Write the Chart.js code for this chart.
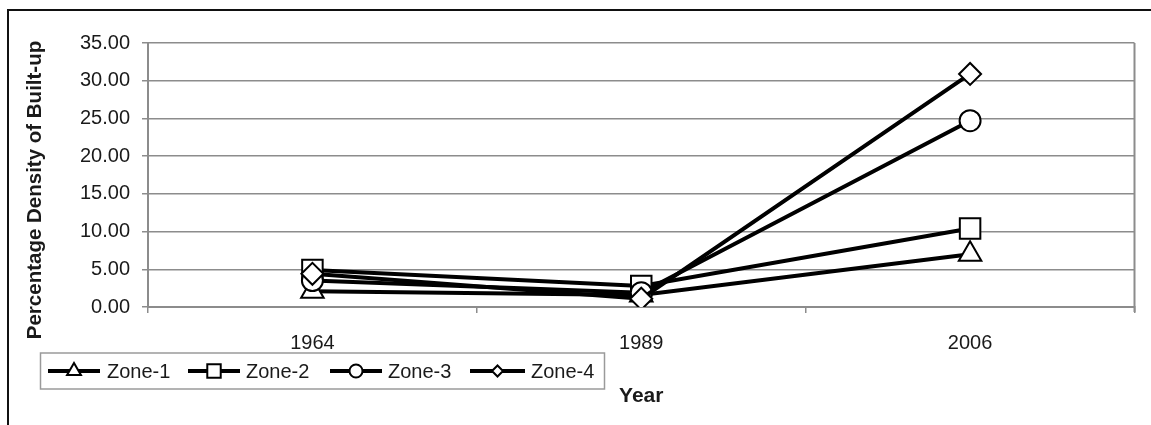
<!DOCTYPE html>
<html>
<head>
<meta charset="utf-8">
<script src="https://cdn.jsdelivr.net/npm/chart.js@4.4.0/dist/chart.umd.min.js"></script>
<style>
  html, body { margin: 0; padding: 0; background: #ffffff; overflow: hidden; }
  #wrap { position: relative; width: 1151px; height: 425px; }
  #frame { position: absolute; left: 7px; top: 9px; width: 1300px; height: 600px;
           border-top: 2px solid #111; border-left: 2px solid #111; pointer-events: none; }
  canvas { position: absolute; left: 0; top: 0; }
</style>
</head>
<body>
<div id="wrap">
  <canvas id="c" width="1151" height="425"></canvas>
  <div id="frame"></div>
</div>
<script>
// ---- data ----
const years = ['1964', '1989', '2006'];
const zone1 = [2.1, 1.6, 7.0];
const zone2 = [4.9, 2.8, 10.4];
const zone3 = [3.5, 1.9, 24.7];
const zone4 = [4.4, 1.1, 30.9];
const seriesNames = ['Zone-1', 'Zone-2', 'Zone-3', 'Zone-4'];
const yTicks = [0, 5, 10, 15, 20, 25, 30, 35];
const yTitle = 'Percentage Density of Built-up';
const xTitle = 'Year';

const FONT = '"Liberation Sans", Arial, sans-serif';
const TEXT = '#1a1a1a';
const GRID = '#8c8c8c';

function ds(label, data, style, radius, order) {
  return {
    label, data, order,
    borderColor: '#000', borderWidth: 4, tension: 0,
    pointStyle: style, pointRadius: radius, pointHoverRadius: radius,
    pointBackgroundColor: '#fff', pointBorderColor: '#000', pointBorderWidth: 2
  };
}

const legendStyles = ['triangle', 'rect', 'circle', 'rectRot'];
const legendLayout = [
  { x1: 48, x2: 100, tx: 107, r: 8 },
  { x1: 188, x2: 240, tx: 246, r: 9.5 },
  { x1: 330, x2: 382, tx: 388, r: 6.5 },
  { x1: 470, x2: 525, tx: 531, r: 5.5 }
];

function drawMarker(ctx, style, x, y, r) {
  ctx.beginPath();
  if (style === 'circle') {
    ctx.arc(x, y, r, 0, Math.PI * 2);
  } else if (style === 'rect') {
    const s = Math.SQRT1_2 * r;
    ctx.rect(x - s, y - s, 2 * s, 2 * s);
  } else if (style === 'rectRot') {
    ctx.moveTo(x - r, y); ctx.lineTo(x, y - r); ctx.lineTo(x + r, y); ctx.lineTo(x, y + r); ctx.closePath();
  } else if (style === 'triangle') {
    let a = 0;
    ctx.moveTo(x + Math.sin(a) * r, y - Math.cos(a) * r);
    a += 2 * Math.PI / 3; ctx.lineTo(x + Math.sin(a) * r, y - Math.cos(a) * r);
    a += 2 * Math.PI / 3; ctx.lineTo(x + Math.sin(a) * r, y - Math.cos(a) * r);
    ctx.closePath();
  }
  ctx.fillStyle = '#fff'; ctx.fill();
  ctx.lineWidth = 2; ctx.strokeStyle = '#000'; ctx.stroke();
}

const extras = {
  id: 'extras',
  beforeDatasetsDraw(chart) {
    const { ctx, chartArea: a } = chart;
    ctx.save();
    ctx.strokeStyle = GRID; ctx.lineWidth = 2;
    ctx.beginPath(); ctx.moveTo(a.right, a.top); ctx.lineTo(a.right, a.bottom + 5); ctx.stroke();
    ctx.restore();
  },
  afterDraw(chart) {
    const { ctx } = chart;
    ctx.save();
    // y axis title
    ctx.fillStyle = TEXT;
    ctx.font = 'bold 20.5px ' + FONT;
    ctx.textAlign = 'center'; ctx.textBaseline = 'middle';
    ctx.translate(35, 190); ctx.rotate(-Math.PI / 2);
    ctx.fillText(yTitle, 0, 0);
    ctx.restore();

    // legend
    ctx.save();
    ctx.strokeStyle = '#9a9a9a'; ctx.lineWidth = 1.5;
    ctx.strokeRect(40.5, 353, 564, 36);
    const ly = 371;
    seriesNames.forEach((name, i) => {
      const L = legendLayout[i];
      ctx.strokeStyle = '#000'; ctx.lineWidth = 4;
      ctx.beginPath(); ctx.moveTo(L.x1, ly); ctx.lineTo(L.x2, ly); ctx.stroke();
      drawMarker(ctx, legendStyles[i], (L.x1 + L.x2) / 2, ly, L.r);
      ctx.fillStyle = TEXT; ctx.font = '20px ' + FONT;
      ctx.textAlign = 'left'; ctx.textBaseline = 'middle';
      ctx.fillText(name, L.tx, ly + 1);
    });
    ctx.restore();
  }
};

new Chart(document.getElementById('c'), {
  type: 'line',
  data: {
    labels: years,
    datasets: [
      ds(seriesNames[0], zone1, 'triangle', 13, 3),
      ds(seriesNames[1], zone2, 'rect', 14.5, 2),
      ds(seriesNames[2], zone3, 'circle', 10.5, 1),
      ds(seriesNames[3], zone4, 'rectRot', 11, 0)
    ]
  },
  options: {
    responsive: false,
    animation: false,
    events: [],
    layout: { padding: { left: 0, top: 43, right: 11, bottom: 0 } },
    plugins: { legend: { display: false }, tooltip: { enabled: false } },
    scales: {
      x: {
        offset: true,
        afterFit(scale) { scale.height = 118; scale.paddingLeft = 0; scale.paddingRight = 0; },
        grid: { offset: true, drawOnChartArea: false, drawTicks: true, tickLength: 6, color: GRID, lineWidth: 1.5 },
        border: { color: GRID, width: 2 },
        ticks: { color: TEXT, font: { family: FONT, size: 20 }, padding: 18, maxRotation: 0 },
        title: { display: true, text: xTitle, color: TEXT, font: { family: FONT, size: 21, weight: 'bold' }, padding: { top: 0, bottom: 16 } }
      },
      y: {
        min: 0, max: 35,
        afterFit(scale) { scale.width = 148; scale.paddingTop = 0; scale.paddingBottom = 0; },
        afterBuildTicks(scale) { scale.ticks = yTicks.map(v => ({ value: v })); },
        grid: { color: GRID, lineWidth: 1.5, tickLength: 6 },
        border: { color: GRID, width: 2 },
        ticks: { color: TEXT, font: { family: FONT, size: 20 }, padding: 12, callback: v => Number(v).toFixed(2) }
      }
    }
  },
  plugins: [extras]
});
</script>
</body>
</html>
